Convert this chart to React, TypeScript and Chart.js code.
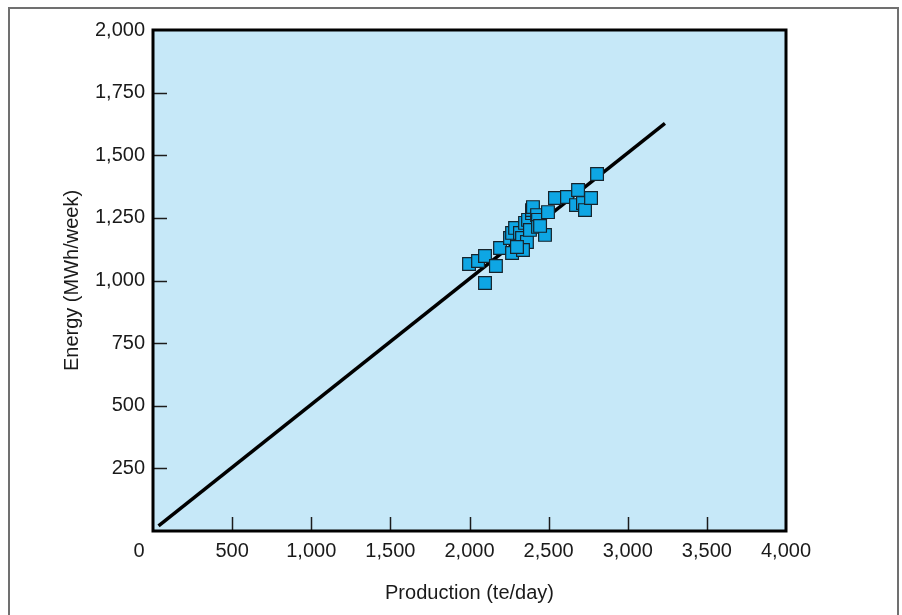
import React, { useEffect, useRef } from "react";
import { Chart, registerables } from "chart.js";

Chart.register(...registerables);

// Observed data: production (te/day) vs energy (MWh/week)
const productionTeDay = [
  1997, 2054, 2098, 2098, 2167, 2193, 2269, 2256, 2300, 2269, 2288, 2319,
  2332, 2363, 2338, 2351, 2370, 2382, 2395, 2395, 2401, 2427, 2433, 2433,
  2477, 2496, 2540, 2616, 2686, 2673, 2717, 2730, 2768, 2806, 2446, 2300,
];
const energyMWhWeek = [
  1066, 1078, 1098, 990, 1058, 1130, 1110, 1170, 1170, 1190, 1210, 1190,
  1170, 1154, 1122, 1230, 1242, 1202, 1269, 1281, 1293, 1261, 1242, 1214,
  1182, 1273, 1329, 1333, 1361, 1301, 1309, 1281, 1329, 1425, 1218, 1134,
];

// Fitted regression line end points
const fitX = [35, 3235];
const fitY = [20, 1627];

// Axis settings
const xTickValues = [0, 500, 1000, 1500, 2000, 2500, 3000, 3500, 4000];
const yTickValues = [0, 250, 500, 750, 1000, 1250, 1500, 1750, 2000];
const xTitle = "Production (te/day)";
const yTitle = "Energy (MWh/week)";

const FONT = "'Liberation Sans', Arial, Helvetica, sans-serif";

const fmt = (v: number) => v.toLocaleString("en-US");

const framePlugin = {
  id: "frame",
  beforeDatasetsDraw(chart: any) {
    const { ctx, chartArea: a } = chart;
    ctx.save();
    ctx.fillStyle = "#c6e8f8";
    ctx.fillRect(a.left, a.top, a.right - a.left, a.bottom - a.top);
    ctx.restore();
  },
  afterDatasetsDraw(chart: any) {
    const { ctx, chartArea: a, scales } = chart;
    ctx.save();
    ctx.strokeStyle = "#1c1c1c";
    ctx.lineWidth = 1.5;
    const tl = 14;
    scales.x.ticks.forEach((t: any) => {
      if (t.value <= scales.x.min || t.value >= scales.x.max) return;
      const px = Math.round(scales.x.getPixelForValue(t.value)) + 0.5;
      ctx.beginPath();
      ctx.moveTo(px, a.bottom);
      ctx.lineTo(px, a.bottom - tl);
      ctx.stroke();
    });
    scales.y.ticks.forEach((t: any) => {
      if (t.value <= scales.y.min || t.value >= scales.y.max) return;
      const py = Math.round(scales.y.getPixelForValue(t.value)) + 0.5;
      ctx.beginPath();
      ctx.moveTo(a.left, py);
      ctx.lineTo(a.left + tl, py);
      ctx.stroke();
    });
    ctx.strokeStyle = "#000";
    ctx.lineWidth = 3;
    ctx.strokeRect(a.left, a.top, a.right - a.left, a.bottom - a.top);
    ctx.restore();
  },
};

export default function App() {
  const ref = useRef<HTMLCanvasElement | null>(null);

  useEffect(() => {
    if (!ref.current) return;
    const chart = new Chart(ref.current, {
      type: "scatter",
      data: {
        datasets: [
          {
            type: "scatter",
            data: productionTeDay.map((x, i) => ({ x, y: energyMWhWeek[i] })),
            pointStyle: "rect",
            pointRadius: 9,
            pointHoverRadius: 9,
            backgroundColor: "#0ea6e4",
            borderColor: "#16232b",
            borderWidth: 1.2,
          },
          {
            type: "line",
            data: fitX.map((x, i) => ({ x, y: fitY[i] })),
            borderColor: "#000",
            borderWidth: 3.5,
            pointRadius: 0,
            fill: false,
          } as any,
        ],
      },
      options: {
        animation: false,
        responsive: false,
        devicePixelRatio: 1,
        layout: { padding: { top: 21, right: 111, left: 0, bottom: 0 } },
        plugins: { legend: { display: false }, tooltip: { enabled: false } },
        scales: {
          x: {
            type: "linear",
            min: 0,
            max: 4000,
            afterBuildTicks: (s: any) => {
              s.ticks = xTickValues.map((value) => ({ value }));
            },
            afterFit: (s: any) => {
              s.height = 82;
            },
            grid: { display: false, drawTicks: false },
            border: { display: false },
            ticks: {
              autoSkip: false,
              maxRotation: 0,
              padding: 8,
              color: "#1a1a1a",
              font: { family: FONT, size: 20 },
              callback: (v: any) => (v === 0 ? "0     " : fmt(v)),
            },
            title: {
              display: true,
              text: xTitle,
              color: "#1a1a1a",
              font: { family: FONT, size: 20 },
              padding: { top: 0, bottom: 8 },
            },
          },
          y: {
            type: "linear",
            min: 0,
            max: 2000,
            afterBuildTicks: (s: any) => {
              s.ticks = yTickValues.map((value) => ({ value }));
            },
            afterFit: (s: any) => {
              s.width = 143;
            },
            grid: { display: false, drawTicks: false },
            border: { display: false },
            ticks: {
              autoSkip: false,
              padding: 8,
              color: "#1a1a1a",
              font: { family: FONT, size: 20 },
              callback: (v: any) => (v === 0 ? "" : fmt(v)),
            },
            title: {
              display: true,
              text: yTitle,
              color: "#1a1a1a",
              font: { family: FONT, size: 20 },
              padding: { top: 50, bottom: 0 },
            },
          },
        },
      },
      plugins: [framePlugin],
    });
    return () => chart.destroy();
  }, []);

  return (
    <div
      style={{
        position: "fixed",
        top: 7,
        left: 8,
        width: 887,
        height: 610,
        borderTop: "2px solid #707070",
        borderLeft: "2px solid #707070",
        borderRight: "2px solid #707070",
        background: "#fff",
      }}
    >
      <canvas ref={ref} width={887} height={604} style={{ display: "block" }} />
    </div>
  );
}
